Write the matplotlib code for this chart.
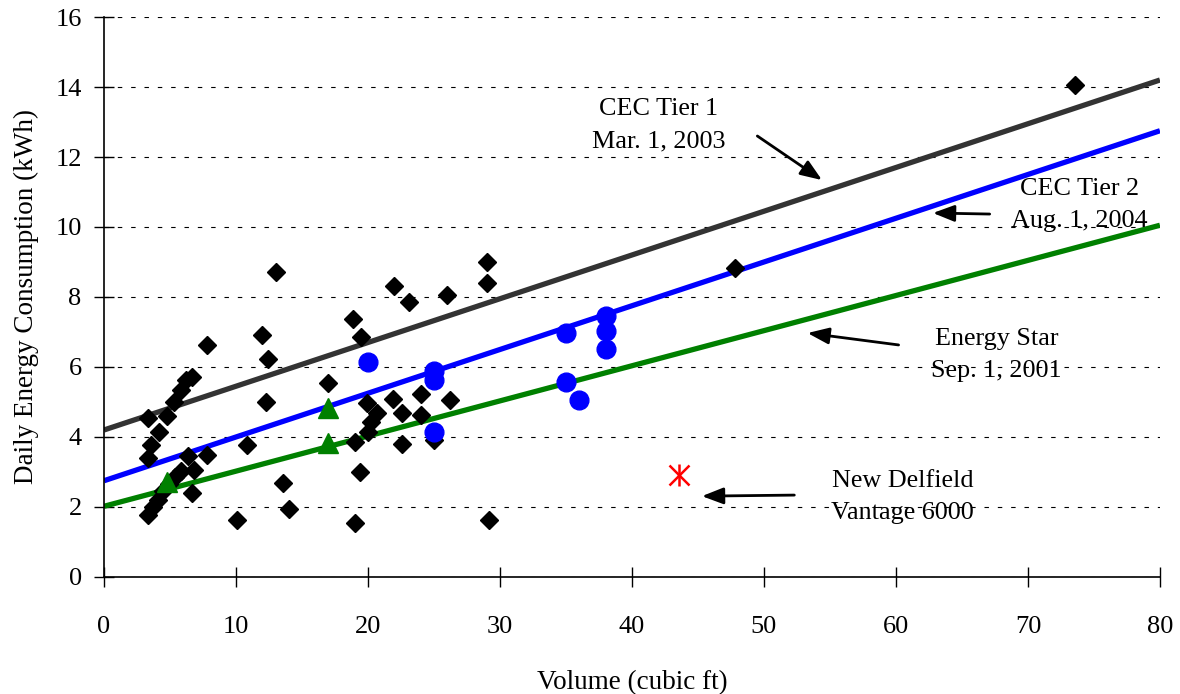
import matplotlib
matplotlib.use("Agg")
import matplotlib.pyplot as plt

plt.rcParams['font.family'] = ['Liberation Serif', 'DejaVu Serif']

# Market survey (black diamonds)
survey_x = [73.6, 47.8, 29.0, 29.0, 26.0, 23.1, 22.0, 13.0, 18.9, 19.5, 12.0, 7.8,
            12.4, 17.0, 12.3, 6.7, 6.2, 5.8, 5.3, 4.8, 4.2, 3.6, 3.3, 3.3, 5.8, 6.4,
            6.8, 7.8, 6.7, 13.6, 14.0, 10.1, 3.3, 19.0, 29.2, 10.8, 3.7, 4.1, 4.5,
            4.9, 5.4, 19.9, 21.9, 24.0, 26.2, 20.7, 20.2, 20.0, 22.6, 24.0, 19.0,
            22.6, 25.0, 19.4]
survey_y = [14.05, 8.83, 9.0, 8.4, 8.06, 7.86, 8.31, 8.72, 7.37, 6.86, 6.91, 6.63,
            6.23, 5.54, 5.0, 5.71, 5.63, 5.34, 5.0, 4.6, 4.14, 3.77, 3.4, 4.54, 3.03,
            3.46, 3.06, 3.49, 2.4, 2.68, 1.94, 1.63, 1.77, 1.54, 1.63, 3.77, 2.0,
            2.2, 2.45, 2.65, 2.85, 4.97, 5.09, 5.23, 5.06, 4.69, 4.43, 4.14, 4.69,
            4.63, 3.86, 3.8, 3.91, 3.0]

# Blue circles
blue_x = [20.0, 25.0, 25.0, 25.0, 35.0, 35.0, 36.0, 38.0, 38.0, 38.0]
blue_y = [6.14, 5.88, 5.63, 4.14, 6.97, 5.57, 5.06, 7.46, 7.03, 6.51]

# Green triangles
green_x = [4.8, 17.0, 17.0]
green_y = [2.7, 4.83, 3.83]

# New Delfield Vantage 6000
delfield_x = [43.6]
delfield_y = [2.9]

# Standard lines (endpoints)
line_x = [0, 80]
tier1_y = [4.2, 14.2]
tier2_y = [2.75, 12.75]
estar_y = [2.02, 10.05]

fig = plt.figure(figsize=(11.8, 6.94), dpi=100)
ax = fig.add_axes([0.0881, 0.1686, 0.8949, 0.8069])

ax.plot(line_x, tier1_y, color='#333333', lw=3.8, zorder=2, solid_capstyle='butt')
ax.plot(line_x, tier2_y, color='#0000ff', lw=3.8, zorder=2, solid_capstyle='butt')
ax.plot(line_x, estar_y, color='#008000', lw=3.8, zorder=2, solid_capstyle='butt')

ax.plot(survey_x, survey_y, ls='none', marker='D', ms=9.5, color='black', zorder=3)
ax.plot(blue_x, blue_y, ls='none', marker='o', ms=13.5, color='#0000ff', zorder=4)
ax.plot(green_x, green_y, ls='none', marker='^', ms=15, color='#008000', zorder=4)
ax.plot(delfield_x, delfield_y, ls='none', marker='x', ms=14, mew=1.8, color='red', zorder=4)
ax.plot(delfield_x, delfield_y, ls='none', marker='|', ms=16, mew=1.8, color='red', zorder=4)

ax.set_xlim(0, 80)
ax.set_ylim(0, 16)
ax.set_xticks(range(0, 81, 10))
ax.set_yticks(range(0, 17, 2))
ax.yaxis.grid(True, color='black', ls=(0, (4, 8)), lw=0.8)
ax.set_axisbelow(True)
for s in ['top', 'right']:
    ax.spines[s].set_visible(False)
ax.spines['left'].set_linewidth(1.2)
ax.spines['bottom'].set_linewidth(1.2)
ax.tick_params(axis='both', direction='inout', length=14, width=1, labelsize=19)
ax.tick_params(axis='x', pad=21)
ax.tick_params(axis='y', pad=9)

ax.set_xlabel('Volume (cubic ft)', fontsize=19.5, labelpad=23)
ax.set_ylabel('Daily Energy Consumption (kWh)', fontsize=19.5, labelpad=12)

arrow = dict(arrowstyle='-|>,head_length=1.3,head_width=0.5', color='black', lw=2,
             shrinkA=0, shrinkB=0)
tkw = dict(ha='center', va='center', fontsize=18.8, linespacing=1.62)

ax.text(42.0, 12.9, 'CEC Tier 1\nMar. 1, 2003', **tkw)
ax.annotate('', xy=(54.4, 11.34), xytext=(49.5, 12.6), arrowprops=arrow)

ax.text(73.9, 10.63, 'CEC Tier 2\nAug. 1, 2004', **tkw)
ax.annotate('', xy=(62.8, 10.4), xytext=(67.1, 10.37), arrowprops=arrow)

ax.text(67.6, 6.34, 'Energy Star\nSep. 1, 2001', **tkw)
ax.annotate('', xy=(53.3, 6.97), xytext=(60.2, 6.63), arrowprops=arrow)

ax.text(60.5, 2.29, 'New Delfield\nVantage 6000', **tkw)
ax.annotate('', xy=(45.3, 2.31), xytext=(52.3, 2.34), arrowprops=arrow)

fig.savefig('out.png', dpi=100)
